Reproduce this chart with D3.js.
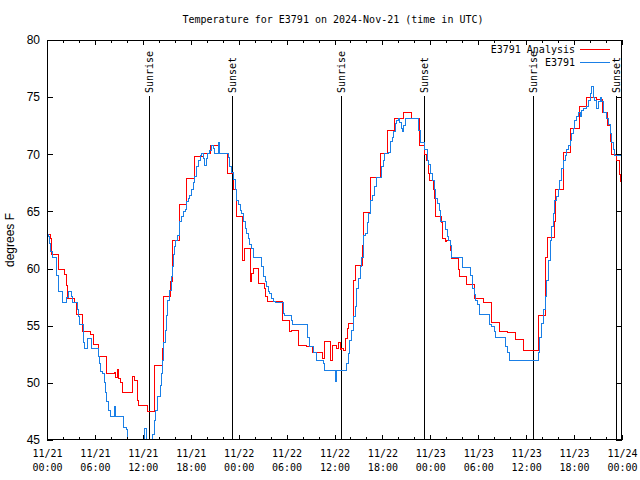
<!DOCTYPE html>
<html><head><meta charset="utf-8">
<script src="https://cdn.jsdelivr.net/npm/d3@7"></script>
<style>
html,body{margin:0;padding:0;background:#fff;}
svg{display:block;}
</style></head>
<body>
<script>
// ---- data (hours since 2024-11-21 00:00 UTC, degrees F) ----
const analysisHours = [0,0.4,0.6,1.5,2.25,2.4,2.6,3.5,3.7,4.5,5.4,5.8,6.5,7.5,8.4,8.6,8.8,8.95,9.2,9.5,10.75,10.95,11.3,11.5,12.6,13.5,14.5,14.6,15.5,15.7,16.65,17.5,18.45,19.6,20.5,21.5,22.6,23.4,23.75,24.5,24.7,25.0,25.5,25.6,25.8,26.5,27.2,27.3,27.55,29.5,30.4,30.6,31.5,32.5,33.3,34.5,34.7,35.5,35.7,36.3,36.5,36.7,36.9,37.1,37.4,37.6,37.75,38.4,38.6,39.5,39.6,40.5,41.7,42.6,43.5,44.6,45.6,46.6,47.3,47.5,47.75,47.9,48.4,48.5,48.6,49.4,49.55,49.85,50.05,50.55,50.7,51.55,51.6,52.5,53.5,54.6,55.6,56.6,57.6,58.65,59.65,61.5,62.4,62.5,62.65,63.5,63.7,64.65,65.6,66.7,67.6,68.8,69.6,70.2,70.5,70.7,71.35,71.7,71.75,71.9];
const analysisTemps = [63.0,62.6,61.25,59.9,59.5,58.5,57.4,57.0,56.0,54.5,54.2,53.4,52.35,50.8,50.9,50.5,51.2,50.4,50.0,49.2,50.6,50.2,48.5,48.0,47.5,51.5,53.0,57.6,58.85,62.5,65.65,67.9,69.85,70.1,70.8,70.1,68.3,66.9,64.6,60.75,61.8,61.8,58.85,59.6,60.0,58.7,58.3,57.55,57.1,55.5,54.5,54.6,53.3,53.2,52.7,52.15,53.6,52.0,53.3,53.0,53.5,52.9,53.0,52.8,53.9,54.8,55.2,59.0,60.3,62.0,64.9,68.0,70.1,72.1,73.1,73.7,73.1,70.8,70.0,69.5,68.3,67.7,66.9,66.15,64.55,64.0,62.65,62.4,62.5,61.6,60.9,59.9,59.35,58.65,57.4,57.0,55.3,54.5,54.4,53.8,52.8,55.9,61.0,61.0,62.7,64.1,66.9,70.2,72.3,74.2,75.0,74.8,73.7,72.5,71.1,70.0,69.5,68.2,67.6,67.6];

const stationHours = [0,0.17,0.29,0.46,0.67,1.13,1.2,1.38,1.5,1.88,2.46,2.63,3.13,3.2,3.8,4.0,4.13,4.6,4.7,5.09,5.6,6.43,6.55,6.72,6.97,7.14,7.3,7.47,7.68,7.9,8.39,8.6,9.64,9.9,10.1,11.0,12.2,12.5,12.75,13.15,13.4,13.6,13.8,14.15,14.35,14.5,14.65,14.8,15.0,15.15,15.35,15.55,15.7,15.8,16.0,16.15,16.35,16.55,16.65,16.85,17.1,17.3,17.5,17.7,17.9,18.1,18.3,18.5,18.7,18.95,19.16,19.35,19.55,19.75,19.95,20.15,20.4,20.6,20.8,21.0,21.45,21.66,22.7,22.9,23.1,23.3,23.55,23.75,23.96,24.17,24.4,24.6,24.8,25.0,25.2,25.4,25.6,25.8,26.9,27.1,27.3,27.5,27.7,27.9,28.1,28.35,28.6,29.6,29.8,30.6,30.7,32.65,32.9,33.35,33.7,34.6,34.7,36.07,36.3,37.5,37.7,37.9,38.15,38.36,38.6,38.8,39.0,39.2,39.4,39.6,39.9,40.1,40.3,40.5,40.8,41.0,41.3,41.9,42.1,42.3,42.7,42.95,43.2,43.4,43.6,43.8,44.0,44.2,44.4,44.5,44.7,44.95,46.5,46.8,47.3,47.6,47.75,48.05,48.3,48.5,48.7,48.9,49.1,49.3,49.96,50.1,50.3,50.5,50.7,52.05,53.05,53.3,53.5,53.6,53.9,54.1,55.35,55.7,56.0,56.2,57.35,57.65,57.9,61.5,61.7,61.95,62.15,62.4,62.55,62.8,63.0,63.2,63.4,63.6,63.8,64.0,64.2,64.45,64.65,64.9,65.1,65.3,65.5,65.7,65.9,66.1,66.3,66.5,66.75,66.95,67.2,67.5,67.8,68.1,68.2,68.4,68.6,68.8,69.0,69.25,69.45,69.7,70.0,70.3,70.5,70.7,70.9,71.1,71.9];
const stationTemps = [63.0,62.8,62.2,61.5,61.0,60.5,59.4,58.4,58.0,57.0,57.5,58.0,57.6,57.0,56.4,55.8,55.1,53.5,53.0,53.9,53.0,52.3,51.7,51.0,50.8,50.0,49.2,48.4,47.6,47.05,47.9,47.05,46.1,45.9,44.0,43.5,46.0,44.5,44.3,45.5,46.75,47.6,48.8,49.8,50.8,52.0,53.5,54.6,55.9,57.25,58.1,59.3,60.2,61.2,61.9,62.5,62.9,63.3,64.1,64.6,65.0,65.2,65.85,66.1,66.4,66.9,67.5,68.05,68.9,69.5,69.9,70.1,69.6,69.05,69.6,70.1,70.3,70.8,70.5,70.1,71.0,70.1,69.7,68.9,68.4,67.8,66.9,66.0,65.6,65.1,64.8,64.1,63.5,63.1,62.65,62.1,61.8,61.0,60.2,59.3,58.9,58.4,58.0,57.8,57.4,57.1,57.0,56.1,55.9,55.5,55.1,54.0,53.2,52.7,52.0,51.7,51.1,50.1,51.1,51.7,52.6,53.75,54.6,55.8,56.7,58.3,59.15,60.2,61.0,62.9,63.1,64.0,64.8,66.0,66.4,67.2,68.0,68.9,69.5,70.1,70.2,71.1,71.5,72.0,72.7,73.0,73.1,72.8,72.3,72.0,72.5,73.1,72.1,71.0,70.4,69.5,69.1,68.3,67.7,66.9,66.15,65.7,65.1,64.1,63.4,62.8,62.5,62.0,61.0,60.1,59.4,58.25,57.7,57.25,56.9,56.0,55.15,54.9,54.5,54.0,53.2,52.7,52.0,52.7,54.0,55.2,56.4,57.55,59.0,60.75,62.5,63.7,64.8,66.0,66.3,66.9,67.75,68.8,69.5,69.9,70.4,70.8,71.25,71.8,72.3,73.0,73.3,73.7,73.3,73.8,74.0,74.2,74.75,75.3,75.95,75.0,74.75,74.0,74.6,75.0,74.6,73.7,73.1,72.6,71.8,71.0,70.4,69.9,70.0,70.0];

const sunEventHours = [12.8, 23.2, 36.8, 47.25, 60.9, 71.2];
const sunEventLabels = ["Sunrise","Sunset","Sunrise","Sunset","Sunrise","Sunset"];

const xMajorHours = [0,6,12,18,24,30,36,42,48,54,60,66,72];
const xTickDates = ["11/21","11/21","11/21","11/21","11/22","11/22","11/22","11/22","11/23","11/23","11/23","11/23","11/24"];
const xTickTimes = ["00:00","06:00","12:00","18:00","00:00","06:00","12:00","18:00","00:00","06:00","12:00","18:00","00:00"];
const yTicks = [45,50,55,60,65,70,75,80];
const seriesNames = ["E3791 Analysis","E3791"];
const seriesColors = ["#ff0000","#1a7fe6"];

// ---- layout ----
const W = 640, H = 480;
const L = 47, R = 622, T = 40, B = 440;
const mono = "'DejaVu Sans Mono', monospace";
const sans = "'Liberation Sans', Arial, sans-serif";

const svg = d3.select("body").append("svg").attr("width", W).attr("height", H)
  .style("font-family", mono);

const x = d3.scaleLinear().domain([0,72]).range([L, R]);
const y = d3.scaleLinear().domain([45,80]).range([B, T]);
const minorHours = d3.range(0,73,2).filter(h => h % 6 !== 0);

// clip
svg.append("defs").append("clipPath").attr("id","plot")
  .append("rect").attr("x", L).attr("y", T).attr("width", R-L).attr("height", B-T);

// sunrise/sunset lines
const sun = svg.append("g");
sun.selectAll("line").data(sunEventHours).join("line")
  .attr("x1", d => Math.round(x(d))+0.5).attr("x2", d => Math.round(x(d))+0.5)
  .attr("y1", 96).attr("y2", B)
  .attr("stroke", "#000").attr("stroke-width", 1).attr("shape-rendering","crispEdges");
sun.selectAll("text").data(sunEventHours).join("text")
  .attr("transform", d => `translate(${Math.round(x(d))+4},93) rotate(-90)`)
  .attr("text-anchor","start")
  .attr("font-size", 10)
  .text((d,i) => sunEventLabels[i]);

// data lines
const line = d3.line().curve(d3.curveStepAfter).x(d => x(d[0])).y(d => y(d[1]));
const series = [
  d3.zip(analysisHours, analysisTemps),
  d3.zip(stationHours, stationTemps)
];
const plot = svg.append("g").attr("clip-path","url(#plot)");
series.forEach((s, i) => {
  plot.append("path").datum(s).attr("d", line)
    .attr("fill","none").attr("stroke", seriesColors[i]).attr("stroke-width", 1)
    .attr("shape-rendering","crispEdges");
});

// axes
function styleAxis(g){
  g.select(".domain").remove();
  g.selectAll("line").attr("stroke","#000").attr("shape-rendering","crispEdges");
}
const xb = svg.append("g").attr("transform", `translate(0,${B})`)
  .call(d3.axisBottom(x).tickValues(xMajorHours).tickSize(-5).tickPadding(14).tickFormat(""));
styleAxis(xb);
xb.selectAll(".tick text").remove();
xb.selectAll(".tick").append("text")
  .attr("fill","#000").attr("font-size",10).attr("font-family", mono).attr("text-anchor","middle")
  .each(function(d,i){
    const t = d3.select(this);
    t.append("tspan").attr("x",0).attr("y",17).text(xTickDates[i]);
    t.append("tspan").attr("x",0).attr("y",31).text(xTickTimes[i]);
  });
const xbm = svg.append("g").attr("transform", `translate(0,${B})`)
  .call(d3.axisBottom(x).tickValues(minorHours).tickSize(-3).tickFormat(""));
styleAxis(xbm);
const xt = svg.append("g").attr("transform", `translate(0,${T})`)
  .call(d3.axisTop(x).tickValues(xMajorHours).tickSize(-5).tickFormat(""));
styleAxis(xt);
const xtm = svg.append("g").attr("transform", `translate(0,${T})`)
  .call(d3.axisTop(x).tickValues(minorHours).tickSize(-3).tickFormat(""));
styleAxis(xtm);

const yl = svg.append("g").attr("transform", `translate(${L},0)`)
  .call(d3.axisLeft(y).tickValues(yTicks).tickSize(-6).tickPadding(7).tickFormat(d3.format("d")));
styleAxis(yl);
yl.selectAll("text").attr("font-family", sans).attr("font-size", 12).attr("fill","#000");
const yr = svg.append("g").attr("transform", `translate(${R},0)`)
  .call(d3.axisRight(y).tickValues(yTicks).tickSize(-6).tickFormat(""));
styleAxis(yr);

// frame
svg.append("rect").attr("x", L+0.5).attr("y", T+0.5).attr("width", R-L-1).attr("height", B-T-1)
  .attr("fill","none").attr("stroke","#000").attr("shape-rendering","crispEdges");

// title
svg.append("text").attr("x", 333).attr("y", 23).attr("text-anchor","middle").attr("font-size", 10)
  .text("Temperature for E3791 on 2024-Nov-21 (time in UTC)");

// y label
svg.append("text").attr("transform","translate(14,240) rotate(-90)").attr("text-anchor","middle")
  .attr("font-family", sans).attr("font-size", 12).text("degrees F");

// legend
const leg = svg.append("g");
seriesNames.forEach((n, i) => {
  const yy = 49 + i*13;
  leg.append("text").attr("x", 575).attr("y", yy+4).attr("text-anchor","end").attr("font-size",10).text(n);
  leg.append("line").attr("x1",580).attr("x2",610).attr("y1",yy+0.5).attr("y2",yy+0.5)
    .attr("stroke", seriesColors[i]).attr("shape-rendering","crispEdges");
});
</script>
</body></html>
